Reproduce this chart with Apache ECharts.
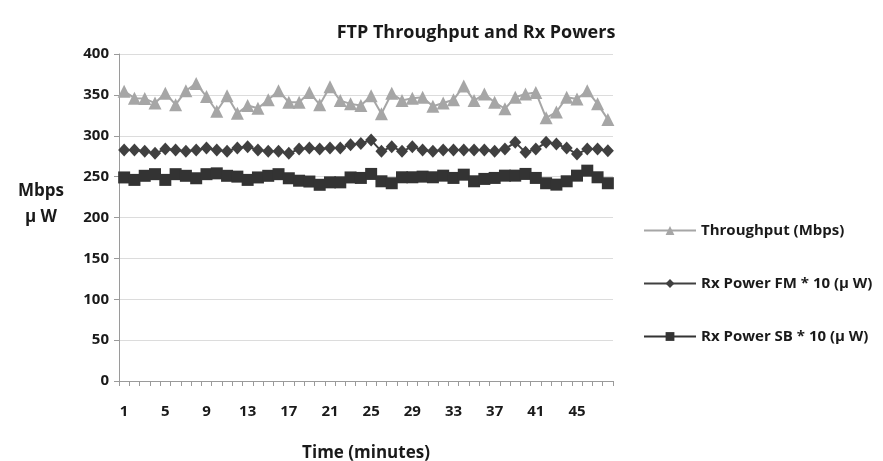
<!DOCTYPE html>
<html>
<head>
<meta charset="utf-8">
<script src="https://cdn.jsdelivr.net/npm/echarts@6/dist/echarts.min.js"></script>
<style>
html,body{margin:0;padding:0;background:#fff;}
#c{width:883px;height:461px;}
</style>
</head>
<body>
<div id="c"></div>
<script>
var minutes = [];
for (var m = 1; m <= 48; m++) minutes.push(String(m));

var throughput = [354.5, 346, 345.5, 340, 352, 338, 355, 364, 348, 330, 349, 327.5, 337, 333.7, 344, 355, 341, 341, 353, 338, 360, 343, 339,
  337, 349, 327, 352, 343, 346, 347, 336, 340, 344, 361, 343, 351, 341, 333, 347, 351, 353, 322, 329, 347, 345, 355, 339, 320];

var rxPowerFM = [282.5, 282.5, 281, 278.5, 283.7, 282.5, 281, 282.5, 285, 282.5, 281, 285, 286.6, 282.5, 281, 281, 278.5, 283.7, 285, 283.7, 285, 285, 289,
  290.6, 294.7, 280.9, 286.6, 280.9, 286.6, 282.5, 280.9, 282.5, 282.5, 282.5, 282.5, 282.5, 280.9, 283.7, 291.9, 279.7, 283.7, 291.9, 289.8, 285, 277.6, 283.7, 283.7, 281.7];

var rxPowerSB = [249, 246, 251, 253, 246, 253, 251, 248, 253, 254, 251, 250, 246, 249, 251, 253, 248, 245, 244, 240, 243, 243, 249,
  248.4, 253.3, 244.3, 241.9, 249.2, 249.2, 250, 249.2, 251.2, 248.4, 252.4, 244.3, 247.2, 248.4, 251.2, 251.2, 253.3, 248.4, 241.9, 240.2, 244.3, 251.2, 257.3, 249.2, 241.9];

var seriesNames = ['Throughput (Mbps)', 'Rx Power FM * 10 (\u03bc W)', 'Rx Power SB * 10 (\u03bc W)'];
var yTicks = [0, 50, 100, 150, 200, 250, 300, 350, 400];

var FONT = '"Open Sans", Lato, sans-serif';
var chart = echarts.init(document.getElementById('c'), null, {renderer: 'canvas'});
chart.setOption({
  animation: false,
  backgroundColor: '#ffffff',
  title: {
    text: 'FTP Throughput and Rx Powers',
    left: 471, top: 19, textAlign: 'center',
    textStyle: {fontFamily: FONT, fontWeight: 'bold', fontSize: 18, color: '#1a1a1a'}
  },
  legend: {
    orient: 'vertical',
    left: 638, top: 218,
    itemWidth: 52, itemHeight: 11, itemGap: 38,
    data: seriesNames,
    textStyle: {fontFamily: FONT, fontWeight: 'bold', fontSize: 15, color: '#1a1a1a'}
  },
  grid: {left: 119, right: 270, top: 54, bottom: 80, containLabel: false, outerBoundsMode: 'none'},
  xAxis: {
    type: 'category',
    data: minutes,
    boundaryGap: true,
    name: 'Time (minutes)',
    nameLocation: 'middle',
    nameGap: 64,
    nameTextStyle: {fontFamily: FONT, fontWeight: 'bold', fontSize: 17, color: '#1a1a1a'},
    axisLine: {lineStyle: {color: '#9a9a9a', width: 1}},
    axisTick: {show: true, interval: 0, length: 5, lineStyle: {color: '#9a9a9a'}},
    axisLabel: {interval: 3, margin: 23, fontFamily: FONT, fontWeight: 'bold', fontSize: 15, color: '#1a1a1a'},
    splitLine: {show: false}
  },
  yAxis: {
    type: 'value',
    min: 0, max: 400, interval: 50,
    name: 'Mbps\n\u03bc W\n',
    nameLocation: 'middle',
    nameRotate: 0,
    nameGap: 78,
    nameTextStyle: {fontFamily: FONT, fontWeight: 'bold', fontSize: 17, color: '#1a1a1a', lineHeight: 26, align: 'center'},
    axisLine: {show: true, lineStyle: {color: '#9a9a9a', width: 1}},
    axisTick: {show: true, length: 5, lineStyle: {color: '#9a9a9a'}},
    axisLabel: {margin: 10, fontFamily: FONT, fontWeight: 'bold', fontSize: 15, color: '#1a1a1a',
      formatter: function (v) { return yTicks.indexOf(v) >= 0 ? String(v) : ''; }},
    splitLine: {show: true, lineStyle: {color: '#dcdcdc', width: 1}}
  },
  series: [
    {
      name: seriesNames[0], type: 'line', data: throughput,
      symbol: 'triangle', symbolSize: 13, showSymbol: true, showAllSymbol: true,
      lineStyle: {color: '#a6a6a6', width: 2},
      itemStyle: {color: '#a6a6a6'}
    },
    {
      name: seriesNames[1], type: 'line', data: rxPowerFM,
      symbol: 'diamond', symbolSize: [12, 13], showSymbol: true, showAllSymbol: true,
      lineStyle: {color: '#404040', width: 2},
      itemStyle: {color: '#404040'}
    },
    {
      name: seriesNames[2], type: 'line', data: rxPowerSB,
      symbol: 'rect', symbolSize: 12, showSymbol: true, showAllSymbol: true,
      lineStyle: {color: '#333333', width: 2},
      itemStyle: {color: '#333333'}
    }
  ]
});
</script>
</body>
</html>
